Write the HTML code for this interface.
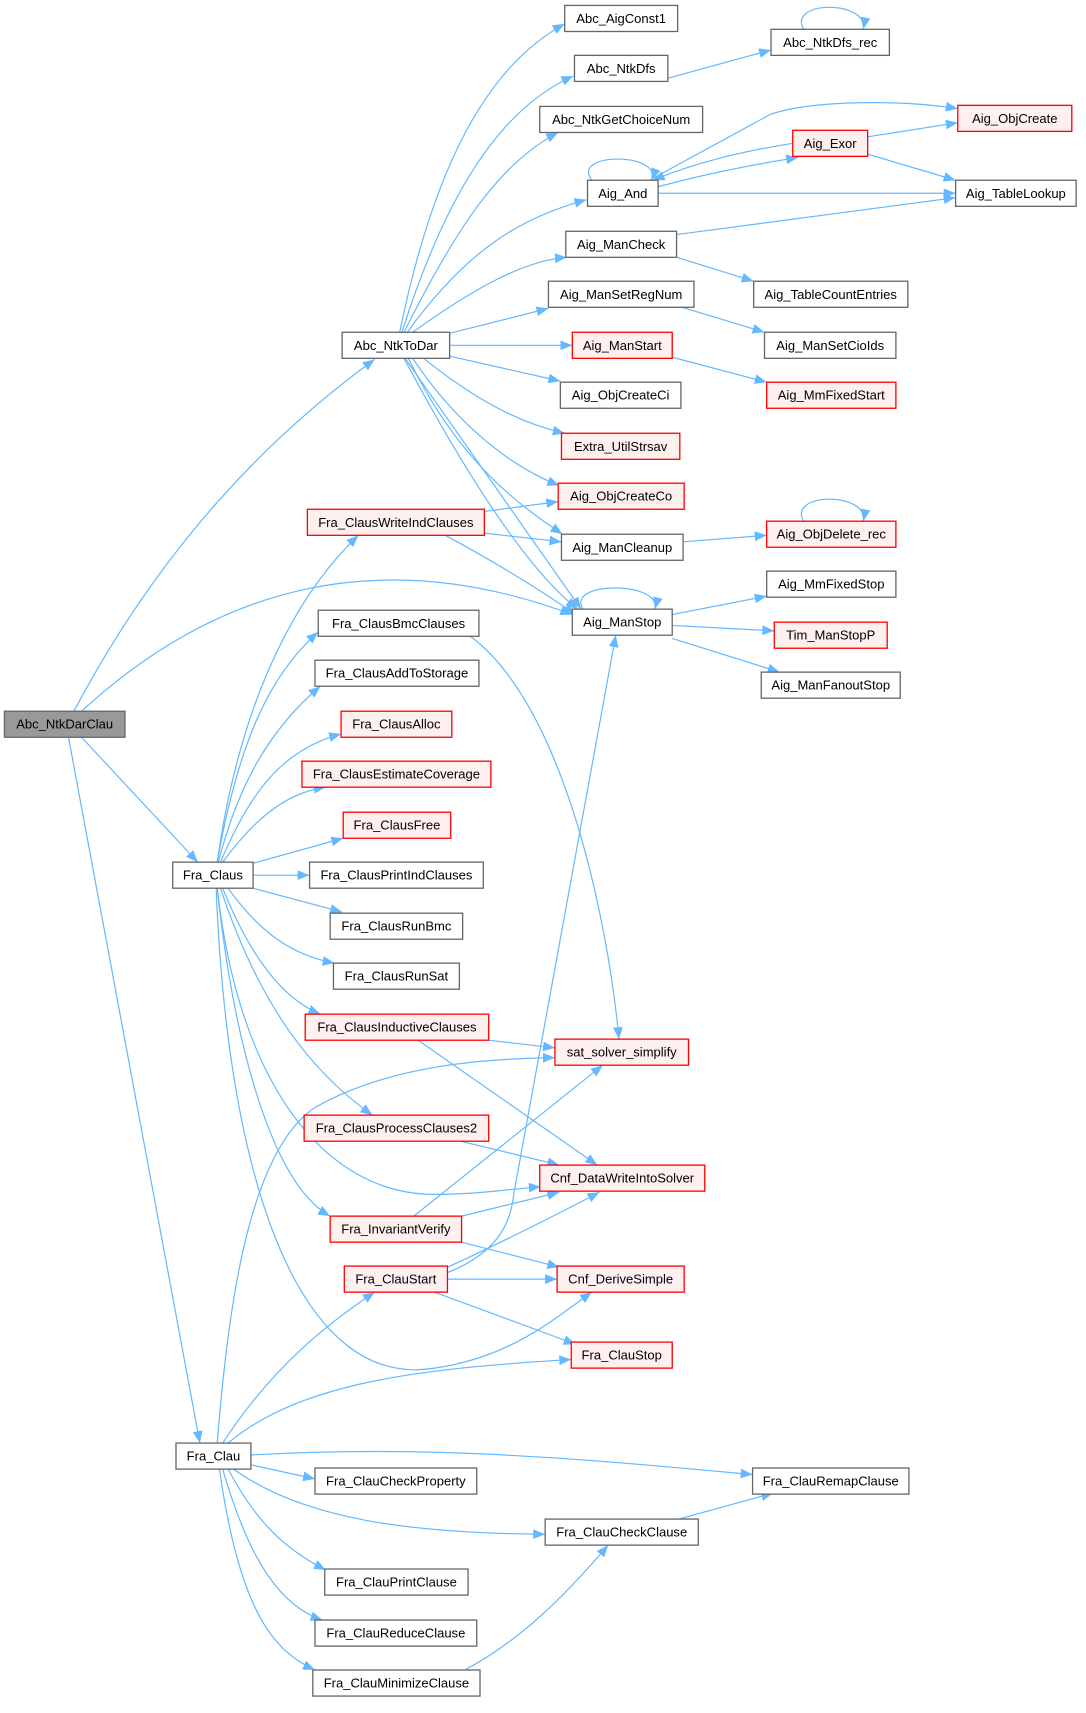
<!DOCTYPE html>
<html><head><meta charset="utf-8"><style>
html,body{margin:0;padding:0;background:#fff;}
svg text{font-family:"Liberation Sans",Arial,sans-serif;font-size:12px;text-anchor:middle;dominant-baseline:central;fill:#000;}
.n{fill:#fff;stroke:#666;stroke-width:1.2;}
.r{fill:#fff0f0;stroke:#f00;stroke-width:1.2;}
.g{fill:#999;stroke:#666;stroke-width:1.2;}
.e{fill:none;stroke:#63b8ff;stroke-width:1.1;marker-end:url(#a);}
</style></head><body>
<svg width="1086" height="1708" viewBox="0 0 1000 1573" xmlns="http://www.w3.org/2000/svg">
<defs><marker id="a" markerUnits="userSpaceOnUse" markerWidth="12" markerHeight="10" refX="11" refY="4.5" orient="auto"><path d="M0,0 L11,4.5 L0,9 z" fill="#63b8ff"/></marker></defs>
<g>
<path class="e" d="M68,655 C150,500 250,400 345,331"/>
<path class="e" d="M75,655 C200,540 350,500 527,566"/>
<path class="e" d="M75,679 L182,794"/>
<path class="e" d="M63,679 L184,1329"/>
<path class="e" d="M368,306 C400,150 450,60 520,22"/>
<path class="e" d="M370,306 C410,180 460,100 528,70"/>
<path class="e" d="M372,306 C420,210 460,150 514,122"/>
<path class="e" d="M375,306 C430,230 480,200 540,184"/>
<path class="e" d="M380,306 C430,270 480,240 522,237"/>
<path class="e" d="M414,307 L505,284"/>
<path class="e" d="M414,318 L527,318"/>
<path class="e" d="M414,328 L516,351"/>
<path class="e" d="M390,330 C440,370 480,390 520,399"/>
<path class="e" d="M380,330 C420,390 470,430 515,447"/>
<path class="e" d="M376,330 C420,420 470,460 518,492"/>
<path class="e" d="M372,330 C420,420 480,520 532,561"/>
<path class="e" d="M373,330 L535,561"/>
<path class="e" d="M615,72 L710,46"/>
<path class="e" d="M740,27 C725,0 800,0 795,27"/>
<path class="e" d="M545,166 C525,140 610,140 600,166"/>
<path class="e" d="M606,172 C650,160 690,152 735,145"/>
<path class="e" d="M730,132 C680,140 640,150 601,166"/>
<path class="e" d="M598,166 L710,105 C750,92 830,92 882,100"/>
<path class="e" d="M606,178 L880,178"/>
<path class="e" d="M799,126 L882,113"/>
<path class="e" d="M799,142 L880,166"/>
<path class="e" d="M623,216 L880,182"/>
<path class="e" d="M623,237 L694,259"/>
<path class="e" d="M628,283 L704,306"/>
<path class="e" d="M619,329 L706,352"/>
<path class="e" d="M629,499 L706,493"/>
<path class="e" d="M740,480 C725,453 800,453 795,480"/>
<path class="e" d="M537,561 C520,535 610,535 603,561"/>
<path class="e" d="M619,566 L706,549"/>
<path class="e" d="M619,576 L713,581"/>
<path class="e" d="M619,588 L718,619"/>
<path class="e" d="M446,471 L514,462"/>
<path class="e" d="M446,491 L517,499"/>
<path class="e" d="M410,493 C460,520 500,545 530,566"/>
<path class="e" d="M200,794 C220,650 270,550 330,493"/>
<path class="e" d="M200,794 C220,680 250,620 293,582"/>
<path class="e" d="M201,794 C220,720 250,670 295,632"/>
<path class="e" d="M203,794 C230,730 260,690 314,676"/>
<path class="e" d="M205,794 C230,760 260,730 300,725"/>
<path class="e" d="M233,795 L316,772"/>
<path class="e" d="M233,806 L285,806"/>
<path class="e" d="M233,818 L315,840"/>
<path class="e" d="M210,818 C240,860 270,880 308,887"/>
<path class="e" d="M205,818 C230,880 260,920 295,934"/>
<path class="e" d="M203,818 C240,930 290,990 343,1027"/>
<path class="e" d="M200,818 C220,1000 300,1100 400,1100 C440,1100 470,1095 498,1093"/>
<path class="e" d="M200,818 C215,960 250,1090 304,1120"/>
<path class="e" d="M199,818 C210,1100 280,1280 400,1260 C470,1250 510,1215 545,1190"/>
<path class="e" d="M433,586 C520,650 560,850 570,957"/>
<path class="e" d="M450,958 L511,965"/>
<path class="e" d="M385,958 L550,1073"/>
<path class="e" d="M420,1050 L515,1073"/>
<path class="e" d="M381,1120 L555,981"/>
<path class="e" d="M425,1120 L515,1098"/>
<path class="e" d="M425,1144 L515,1167"/>
<path class="e" d="M412,1167 C450,1150 510,1120 552,1098"/>
<path class="e" d="M412,1172 C455,1155 470,1130 473,1100 L567,585"/>
<path class="e" d="M412,1178 L513,1178"/>
<path class="e" d="M400,1190 L530,1238"/>
<path class="e" d="M205,1329 C250,1260 300,1220 345,1190"/>
<path class="e" d="M200,1329 C210,1200 230,1060 290,1020 C360,980 450,975 511,974"/>
<path class="e" d="M210,1329 C280,1270 400,1260 526,1252"/>
<path class="e" d="M231,1340 C400,1330 550,1345 693,1358"/>
<path class="e" d="M231,1349 L290,1362"/>
<path class="e" d="M215,1353 C280,1400 380,1412 502,1413"/>
<path class="e" d="M210,1353 C240,1410 270,1430 300,1446"/>
<path class="e" d="M205,1353 C230,1440 260,1480 297,1492"/>
<path class="e" d="M202,1353 C220,1480 250,1520 290,1538"/>
<path class="e" d="M625,1399 L712,1375"/>
<path class="e" d="M428,1538 C480,1510 520,1470 560,1423"/>
</g>
<g>
<rect class="g" x="4" y="655" width="111" height="24"/><text x="59.5" y="667">Abc_NtkDarClau</text>
<rect class="n" x="315" y="306" width="99" height="24"/><text x="364.5" y="318">Abc_NtkToDar</text>
<rect class="n" x="159" y="794" width="74" height="24"/><text x="196" y="806">Fra_Claus</text>
<rect class="n" x="162" y="1329" width="69" height="24"/><text x="196.5" y="1341">Fra_Clau</text>
<rect class="n" x="520" y="5" width="104" height="24"/><text x="572" y="17">Abc_AigConst1</text>
<rect class="n" x="529" y="51" width="86" height="24"/><text x="572" y="63">Abc_NtkDfs</text>
<rect class="n" x="710" y="27" width="109" height="24"/><text x="764.5" y="39">Abc_NtkDfs_rec</text>
<rect class="n" x="497" y="98" width="150" height="24"/><text x="572" y="110">Abc_NtkGetChoiceNum</text>
<rect class="r" x="882" y="97" width="105" height="24"/><text x="934.5" y="109">Aig_ObjCreate</text>
<rect class="r" x="730" y="120" width="69" height="24"/><text x="764.5" y="132">Aig_Exor</text>
<rect class="n" x="541" y="166" width="65" height="24"/><text x="573.5" y="178">Aig_And</text>
<rect class="n" x="880" y="166" width="111" height="24"/><text x="935.5" y="178">Aig_TableLookup</text>
<rect class="n" x="521" y="213" width="102" height="24"/><text x="572" y="225">Aig_ManCheck</text>
<rect class="n" x="694" y="259" width="142" height="24"/><text x="765" y="271">Aig_TableCountEntries</text>
<rect class="n" x="505" y="259" width="134" height="24"/><text x="572" y="271">Aig_ManSetRegNum</text>
<rect class="n" x="704" y="306" width="121" height="24"/><text x="764.5" y="318">Aig_ManSetCioIds</text>
<rect class="r" x="527" y="306" width="92" height="24"/><text x="573" y="318">Aig_ManStart</text>
<rect class="r" x="706" y="352" width="119" height="24"/><text x="765.5" y="364">Aig_MmFixedStart</text>
<rect class="n" x="516" y="352" width="111" height="24"/><text x="571.5" y="364">Aig_ObjCreateCi</text>
<rect class="r" x="517" y="399" width="109" height="24"/><text x="571.5" y="411">Extra_UtilStrsav</text>
<rect class="r" x="514" y="445" width="116" height="24"/><text x="572" y="457">Aig_ObjCreateCo</text>
<rect class="r" x="283" y="469" width="163" height="24"/><text x="364.5" y="481">Fra_ClausWriteIndClauses</text>
<rect class="n" x="517" y="492" width="112" height="24"/><text x="573" y="504">Aig_ManCleanup</text>
<rect class="r" x="706" y="480" width="119" height="24"/><text x="765.5" y="492">Aig_ObjDelete_rec</text>
<rect class="n" x="706" y="526" width="119" height="24"/><text x="765.5" y="538">Aig_MmFixedStop</text>
<rect class="n" x="527" y="561" width="92" height="24"/><text x="573" y="573">Aig_ManStop</text>
<rect class="r" x="713" y="573" width="104" height="24"/><text x="765" y="585">Tim_ManStopP</text>
<rect class="n" x="701" y="619" width="128" height="24"/><text x="765" y="631">Aig_ManFanoutStop</text>
<rect class="n" x="293" y="562" width="148" height="24"/><text x="367" y="574">Fra_ClausBmcClauses</text>
<rect class="n" x="290" y="608" width="151" height="24"/><text x="365.5" y="620">Fra_ClausAddToStorage</text>
<rect class="r" x="314" y="655" width="102" height="24"/><text x="365" y="667">Fra_ClausAlloc</text>
<rect class="r" x="278" y="701" width="174" height="24"/><text x="365" y="713">Fra_ClausEstimateCoverage</text>
<rect class="r" x="316" y="748" width="99" height="24"/><text x="365.5" y="760">Fra_ClausFree</text>
<rect class="n" x="285" y="794" width="160" height="24"/><text x="365" y="806">Fra_ClausPrintIndClauses</text>
<rect class="n" x="304" y="841" width="122" height="24"/><text x="365" y="853">Fra_ClausRunBmc</text>
<rect class="n" x="307" y="887" width="116" height="24"/><text x="365" y="899">Fra_ClausRunSat</text>
<rect class="r" x="281" y="934" width="169" height="24"/><text x="365.5" y="946">Fra_ClausInductiveClauses</text>
<rect class="r" x="511" y="957" width="123" height="24"/><text x="572.5" y="969">sat_solver_simplify</text>
<rect class="r" x="280" y="1027" width="170" height="24"/><text x="365" y="1039">Fra_ClausProcessClauses2</text>
<rect class="r" x="497" y="1073" width="152" height="24"/><text x="573" y="1085">Cnf_DataWriteIntoSolver</text>
<rect class="r" x="304" y="1120" width="121" height="24"/><text x="364.5" y="1132">Fra_InvariantVerify</text>
<rect class="r" x="317" y="1166" width="95" height="24"/><text x="364.5" y="1178">Fra_ClauStart</text>
<rect class="r" x="513" y="1166" width="117" height="24"/><text x="571.5" y="1178">Cnf_DeriveSimple</text>
<rect class="r" x="526" y="1236" width="93" height="24"/><text x="572.5" y="1248">Fra_ClauStop</text>
<rect class="n" x="290" y="1352" width="149" height="24"/><text x="364.5" y="1364">Fra_ClauCheckProperty</text>
<rect class="n" x="693" y="1352" width="144" height="24"/><text x="765" y="1364">Fra_ClauRemapClause</text>
<rect class="n" x="502" y="1399" width="141" height="24"/><text x="572.5" y="1411">Fra_ClauCheckClause</text>
<rect class="n" x="299" y="1445" width="132" height="24"/><text x="365" y="1457">Fra_ClauPrintClause</text>
<rect class="n" x="290" y="1492" width="149" height="24"/><text x="364.5" y="1504">Fra_ClauReduceClause</text>
<rect class="n" x="288" y="1538" width="154" height="24"/><text x="365" y="1550">Fra_ClauMinimizeClause</text>
</g>
</svg>
</body></html>
